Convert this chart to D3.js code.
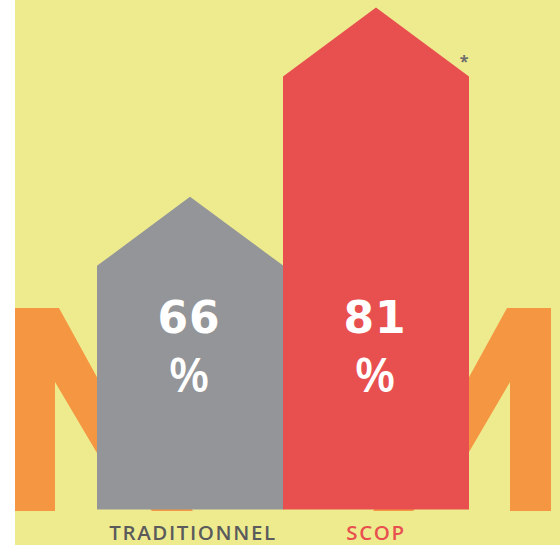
<!DOCTYPE html>
<html>
<head>
<meta charset="utf-8">
<script src="https://cdn.jsdelivr.net/npm/d3@7"></script>
<style>
  html, body { margin: 0; padding: 0; background: #ffffff; }
  svg { display: block; }
</style>
</head>
<body>
<div id="chart"></div>
<script>
// ---- data ----
const categories = ["TRADITIONNEL", "SCOP"];
const values = [66, 81];
const valueSuffix = ["%", "%"];
const footnote = ["*"];

// ---- styles ----
const W = 560, H = 545;
const colors = {
  bg: "#eeeb8f",
  orange: "#f49642",
  bars: ["#939598", "#e8504f"],
  labels: ["#5b5b5c", "#e8504f"],
  value: "#ffffff",
  note: "#6d6d6d"
};

const svg = d3.select("#chart").append("svg")
  .attr("width", W).attr("height", H);

// background
svg.append("rect").attr("x", 0).attr("y", 0).attr("width", W).attr("height", H).attr("fill", "#ffffff");
svg.append("rect").attr("x", 15).attr("y", 0).attr("width", W - 15).attr("height", H).attr("fill", colors.bg);

// decorative giant letters (background)
const mLeft = [[15,511],[15,308],[59,308],[126,430],[193,511],[152,511],[97,453],[55,382],[55,511]];
const mRight = [[551,511],[551,308],[507,308],[440,430],[373,511],[413,511],[469,452],[510,382],[510,511]];
const line = d3.line();
svg.append("path").attr("d", line(mLeft) + "Z").attr("fill", colors.orange);
svg.append("path").attr("d", line(mRight) + "Z").attr("fill", colors.orange);

// scales
const x = d3.scaleBand().domain(categories).range([97, 469]).padding(0);
const y = d3.scaleLinear().domain([46.7, 81]).range([509.5, 76.5]);
const roof = 69;
const base = y(y.domain()[0]);

const g = svg.append("g");
g.selectAll("path.house")
  .data(categories.map((c, i) => ({ c, v: values[i], i })))
  .join("path")
  .attr("class", "house")
  .attr("fill", d => colors.bars[d.i])
  .attr("d", d => {
    const x0 = x(d.c), x1 = x0 + x.bandwidth() + (d.i === 0 ? 0.5 : 0), xm = x0 + x.bandwidth() / 2;
    const yt = y(d.v);
    return `M${x0},${base}L${x0},${yt}L${xm},${yt - roof}L${x1},${yt}L${x1},${base}Z`;
  });

// value labels
const vals = g.selectAll("g.val")
  .data(categories.map((c, i) => ({ c, v: values[i], i })))
  .join("g").attr("class", "val");
vals.append("text")
  .attr("x", d => x(d.c) + x.bandwidth() / 2 - 1)
  .attr("y", 333)
  .attr("text-anchor", "middle")
  .attr("fill", colors.value)
  .style("font-family", "'DejaVu Sans', sans-serif")
  .style("font-weight", 700)
  .style("font-size", "44px")
  .style("letter-spacing", "1px")
  .text(d => d.v);
vals.append("text")
  .attr("x", d => x(d.c) + x.bandwidth() / 2 - 1)
  .attr("y", 392)
  .attr("text-anchor", "middle")
  .attr("fill", colors.value)
  .style("font-family", "'Open Sans', sans-serif")
  .style("font-weight", 600)
  .style("font-size", "47px")
  .text(d => valueSuffix[d.i]);

// category labels
g.selectAll("text.cat")
  .data(categories)
  .join("text")
  .attr("class", "cat")
  .attr("x", (d, i) => x(d) + x.bandwidth() / 2 + (i === 0 ? 3 : 0))
  .attr("y", 540)
  .attr("text-anchor", "middle")
  .attr("fill", (d, i) => colors.labels[i])
  .style("font-family", "'Open Sans', sans-serif")
  .style("font-weight", 600)
  .style("font-size", "20.5px")
  .style("letter-spacing", "1.6px")
  .text(d => d);

// footnote asterisk
svg.append("text")
  .attr("x", x("SCOP") + x.bandwidth() - 5)
  .attr("y", 67)
  .attr("text-anchor", "middle")
  .attr("fill", colors.note)
  .style("font-family", "'Open Sans', sans-serif")
  .style("font-weight", 700)
  .style("font-size", "16px")
  .text(footnote[0]);
</script>
</body>
</html>
